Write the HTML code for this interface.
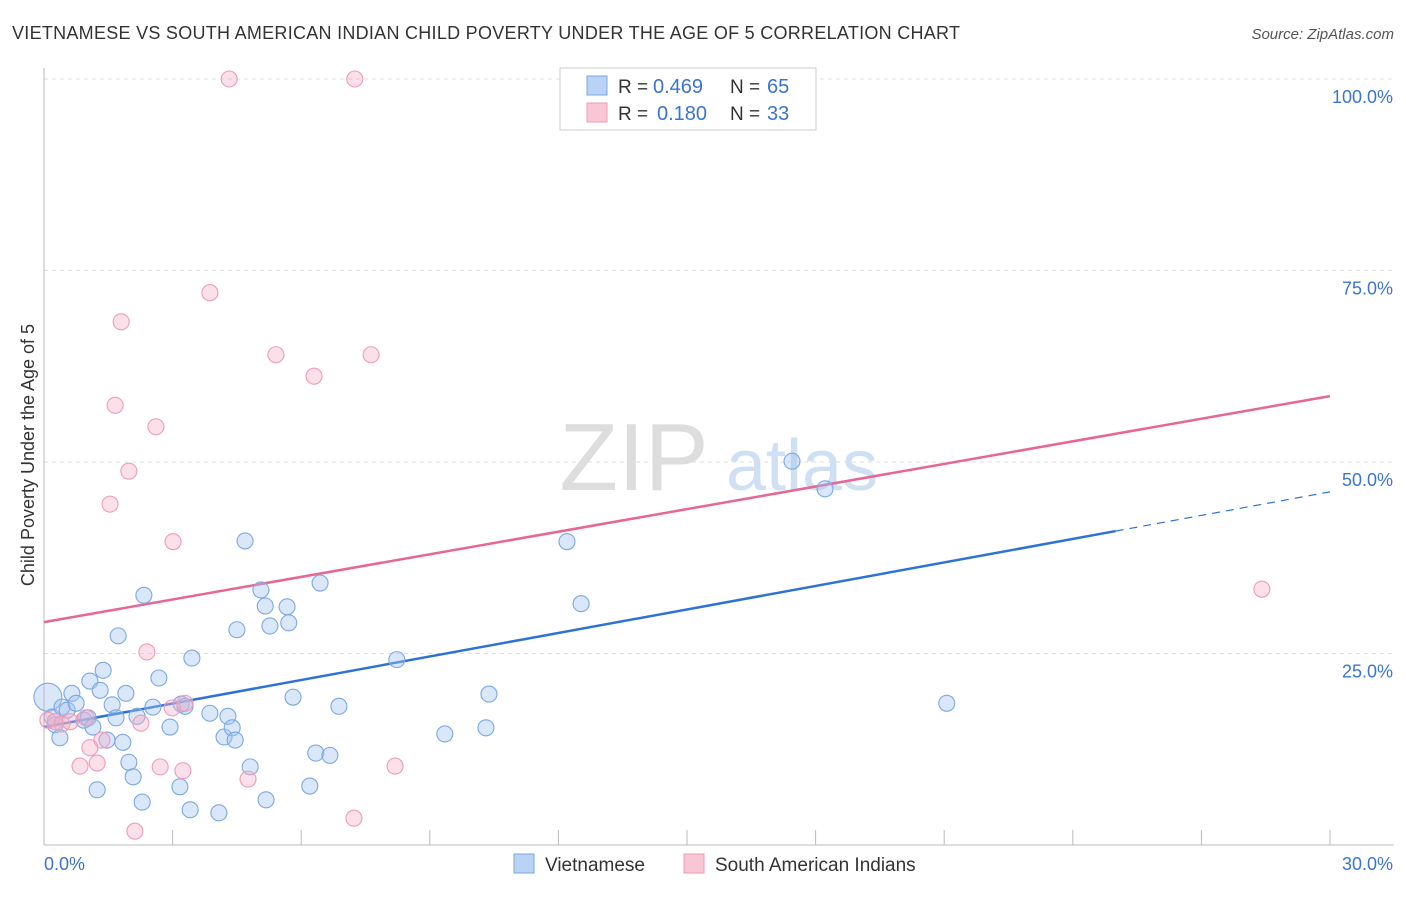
<!DOCTYPE html>
<html><head><meta charset="utf-8"><style>
body{margin:0;background:#fff;font-family:"Liberation Sans",sans-serif}
svg text{font-family:"Liberation Sans",sans-serif}
</style></head><body>
<svg id="chart" width="1406" height="892">
<text x="12" y="39" font-size="18" fill="#333" textLength="948">VIETNAMESE VS SOUTH AMERICAN INDIAN CHILD POVERTY UNDER THE AGE OF 5 CORRELATION CHART</text>
<text x="1394" y="39" font-size="15" fill="#555" font-style="italic" text-anchor="end">Source: ZipAtlas.com</text>
<g>
<text x="634" y="490" font-size="96" fill="#ddd" font-family="Liberation Serif" text-anchor="middle">ZIP</text>
<text x="802" y="490" font-size="72" fill="#cfe0f4" text-anchor="middle">atlas</text>
</g>
<g id="grid"></g><g id="axes"></g><g id="lines"></g><g id="points"></g>
<text transform="translate(34,455) rotate(-90)" font-size="18" fill="#333" text-anchor="middle">Child Poverty Under the Age of 5</text>
<g>
<rect x="560" y="68" width="256" height="62" fill="#fff" stroke="#ccc"/>
<rect x="587" y="76" width="20" height="19" fill="#b8d3f5" stroke="#7aa8e0"/>
<rect x="587" y="103" width="20" height="19" fill="#f9c6d6" stroke="#ef9ab6"/>
<text x="618" y="93" font-size="19" fill="#333">R =</text>
<text x="653" y="93" font-size="20" fill="#3b74d0">0.469</text>
<text x="730" y="93" font-size="19" fill="#333">N =</text>
<text x="767" y="93" font-size="20" fill="#3b74d0">65</text>
<text x="618" y="120" font-size="19" fill="#333">R =</text>
<text x="657" y="120" font-size="20" fill="#3b74d0">0.180</text>
<text x="730" y="120" font-size="19" fill="#333">N =</text>
<text x="767" y="120" font-size="20" fill="#3b74d0">33</text>
</g>
<g>
<rect x="514" y="854" width="20" height="19" fill="#b8d3f5" stroke="#7aa8e0"/>
<text x="545" y="871" font-size="19" fill="#333">Vietnamese</text>
<rect x="684" y="854" width="20" height="19" fill="#f9c6d6" stroke="#ef9ab6"/>
<text x="715" y="871" font-size="19" fill="#333">South American Indians</text>
</g>
</svg>
<script>
const blueX=[0.09,0.19,0.26,0.37,0.42,0.54,0.65,0.75,0.93,1.03,1.07,1.14,1.24,1.31,1.38,1.47,1.59,1.68,1.73,1.84,1.91,1.98,2.08,2.17,2.29,2.33,2.54,2.68,2.94,3.17,3.20,3.29,3.41,3.45,3.87,4.08,4.20,4.29,4.39,4.46,4.50,4.69,4.81,5.06,5.16,5.18,5.27,5.67,5.71,5.81,6.20,6.34,6.44,6.67,6.88,8.23,9.35,10.31,10.38,12.20,12.53,17.45,18.22,21.06];
const blueY=[19.3,16.7,15.7,14.0,18.0,17.6,19.8,18.5,16.3,16.6,21.4,15.4,7.2,20.2,22.8,13.7,18.3,16.6,27.3,13.4,19.8,10.8,8.9,16.8,5.6,32.6,18.0,21.8,15.4,7.6,18.4,18.1,4.6,24.4,17.2,4.2,14.1,16.8,15.3,13.7,28.1,39.7,10.2,33.3,31.2,5.9,28.6,31.1,29.0,19.3,7.7,12.0,34.2,11.7,18.1,24.2,14.5,15.3,19.7,39.6,31.5,50.1,46.5,18.5];
const pinkX=[0.09,0.26,0.42,0.61,0.84,0.98,1.07,1.24,1.35,1.54,1.66,1.80,1.98,2.12,2.26,2.40,2.61,2.71,3.01,3.24,3.29,2.99,3.87,4.32,4.76,5.41,6.30,7.23,7.25,7.63,8.19,28.41];
const pinkY=[16.3,16.1,15.8,16.1,10.3,16.6,12.7,10.7,13.7,44.5,57.4,68.3,48.8,1.8,15.9,25.2,54.6,10.2,39.6,9.7,18.5,17.9,72.1,100,8.6,64.0,61.2,3.5,100,64.0,10.3,33.4];
const blueTrend=[15.4,46.1]; // y at x=0 and x=30
const pinkTrend=[29.1,58.6];
const yTicks=[25,50,75,100];
const yTickLabels=["25.0%","50.0%","75.0%","100.0%"];
const xTickCount=10;
const NS="http://www.w3.org/2000/svg";
const sx=v=>44+v*(1330-44)/30, sy=v=>845-v*(845-79)/100;
function mk(tag,attrs,parent){const e=document.createElementNS(NS,tag);for(const k in attrs)e.setAttribute(k,attrs[k]);document.getElementById(parent).appendChild(e);return e;}
yTicks.forEach((t,i)=>{
 const l=mk('line',{x1:44,x2:1394,y1:sy(t),y2:sy(t),stroke:'#ddd','stroke-dasharray':'4,4'},'grid');
 
 
 const tx=mk('text',{x:1393,y:sy(t)+24,'font-size':18,fill:'#3b74d0','text-anchor':'end'},'axes');
 tx.textContent=yTickLabels[i];
 
 
});
const ax=mk('line',{x1:44,x2:44,y1:68,y2:845,stroke:'#bbb'},'axes');


const bx=mk('line',{x1:44,x2:1394,y1:845,y2:845,stroke:'#bbb'},'axes');


for(let i=0;i<=xTickCount;i++){const x=sx(i*30/xTickCount);
 const t=mk('line',{x1:x,x2:x,y1:830,y2:845,stroke:'#bbb'},'axes');
 
 }
[['0.0%',44,'start'],['30.0%',1393,'end']].forEach(a=>{const t=mk('text',{x:a[1],y:870,'font-size':18,fill:'#3b74d0','text-anchor':a[2]},'axes');t.textContent=a[0];
 
 });
const yAt=(tr,x)=>tr[0]+(tr[1]-tr[0])*x/30;
let l1=mk('line',{x1:sx(0),y1:sy(yAt(blueTrend,0)),x2:sx(25),y2:sy(yAt(blueTrend,25)),stroke:'#2f72d6','stroke-width':2.5},'lines');


let l2=mk('line',{x1:sx(25),y1:sy(yAt(blueTrend,25)),x2:sx(30),y2:sy(yAt(blueTrend,30)),stroke:'#2f72d6','stroke-width':1.2,'stroke-dasharray':'8,6'},'lines');


let l3=mk('line',{x1:sx(0),y1:sy(yAt(pinkTrend,0)),x2:sx(30),y2:sy(yAt(pinkTrend,30)),stroke:'#e76694','stroke-width':2.5},'lines');


blueX.forEach((x,i)=>{const c=mk('circle',{cx:sx(x),cy:sy(blueY[i]),r:i==0?14:8,fill:'rgba(160,196,240,0.4)',stroke:'#7ba8e4','stroke-width':1.1},'points');
 
 });
pinkX.forEach((x,i)=>{const c=mk('circle',{cx:sx(x),cy:sy(pinkY[i]),r:8,fill:'rgba(246,176,200,0.4)',stroke:'#ee9cb8','stroke-width':1.1},'points');
 
 });
</script>
</body></html>
